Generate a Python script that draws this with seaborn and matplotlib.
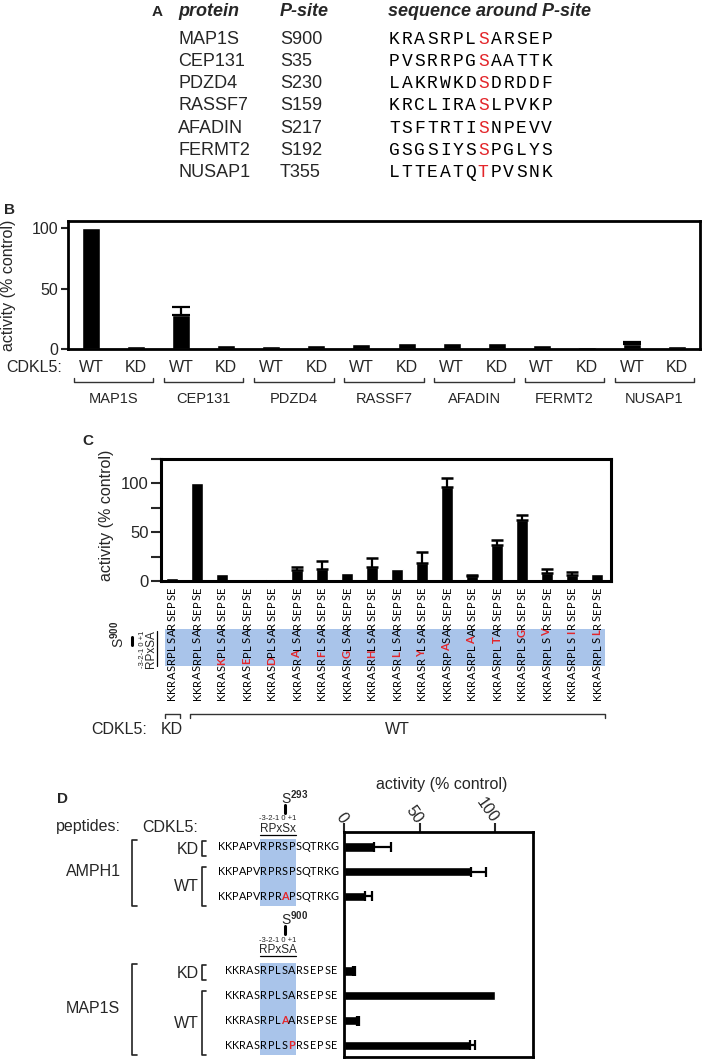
import numpy as np
import pandas as pd
import matplotlib
matplotlib.use('Agg')
import matplotlib.pyplot as plt
import seaborn as sns
from matplotlib.transforms import blended_transform_factory
from matplotlib.patches import Rectangle

sns.set_style('ticks')
plt.rcParams['font.family'] = ['Liberation Sans', 'DejaVu Sans']
plt.rcParams['mathtext.fontset'] = 'custom'
plt.rcParams['mathtext.rm'] = 'Liberation Sans'
plt.rcParams['mathtext.bf'] = 'Liberation Sans:bold'

RED = '#e3262b'
BAND = '#a9c4ea'

# ---------------- data ----------------
# panel A
a_proteins = ['MAP1S', 'CEP131', 'PDZD4', 'RASSF7', 'AFADIN', 'FERMT2', 'NUSAP1']
a_psites = ['S900', 'S35', 'S230', 'S159', 'S217', 'S192', 'T355']
a_seqs = ['KRASRPLSARSEP', 'PVSRRPGSAATTK', 'LAKRWKDSDRDDF', 'KRCLIRASLPVKP',
          'TSFTRTISNPEVV', 'GSGSIYSSPGLYS', 'LTTEATQTPVSNK']

# panel B
b_cdkl5 = ['WT', 'KD']
b_wt = [100, 28, 2.2, 3.8, 5.2, 3.3, 3.8]
b_wt_err = [0, 6.5, 0, 0, 0, 0, 2.2]
b_kd = [2.2, 3.3, 3.6, 4.7, 4.9, 1.9, 2.5]

# panel C
c_ref = 'KKRASRPLSARSEPSE'
c_seqs = ['KKRASRPLSARSEPSE', 'KKRASRPLSARSEPSE', 'KKRASKPLSARSEPSE', 'KKRASEPLSARSEPSE',
          'KKRASDPLSARSEPSE', 'KKRASRALSARSEPSE', 'KKRASRFLSARSEPSE', 'KKRASRGLSARSEPSE',
          'KKRASRHLSARSEPSE', 'KKRASRLLSARSEPSE', 'KKRASRYLSARSEPSE', 'KKRASRPASARSEPSE',
          'KKRASRPLAARSEPSE', 'KKRASRPLTARSEPSE', 'KKRASRPLSGRSEPSE', 'KKRASRPLSVRSEPSE',
          'KKRASRPLSIRSEPSE', 'KKRASRPLSLRSEPSE']
c_kinase = ['KD'] + ['WT'] * 17
c_vals = [3, 100, 7, 0.8, 2, 11.7, 12.8, 8.3, 14.8, 12, 18.2, 96, 5.5, 37, 62, 8.6, 6.2, 6.9]
c_err = [0, 0, 0, 0, 0, 2.8, 7.9, 0, 8.6, 0, 11.8, 10, 0.8, 5, 5.7, 4.1, 2.8, 0]

# panel D
d_proteins = ['AMPH1', 'MAP1S']
d_amph_ref = 'KKPAPVRPRSPSQTRKG'
d_amph_seqs = ['KKPAPVRPRSPSQTRKG', 'KKPAPVRPRSPSQTRKG', 'KKPAPVRPRAPSQTRKG']
d_amph_kinase = ['KD', 'WT', 'WT']
d_map_ref = 'KKRASRPLSARSEPSE'
d_map_seqs = ['KKRASRPLSARSEPSE', 'KKRASRPLSARSEPSE', 'KKRASRPLAARSEPSE', 'KKRASRPLSPRSEPSE']
d_map_kinase = ['KD', 'WT', 'WT', 'WT']
d_rows = [0, 1, 2, 5, 6, 7, 8]
d_vals = [20, 84, 14, 5.7, 100, 8.4, 83.5]
d_err = [11, 10, 4.8, 1.6, 0, 1.6, 3]

# ---------------- figure ----------------
W, H = 709, 1059
fig = plt.figure(figsize=(W / 100, H / 100), dpi=100)
ov = fig.add_axes([0, 0, 1, 1])
ov.set_xlim(0, W)
ov.set_ylim(H, 0)
ov.axis('off')


def px_axes(l, t, r, b):
    return fig.add_axes([l / W, 1 - b / H, (r - l) / W, (b - t) / H])


def style_box(ax, lw):
    for s in ax.spines.values():
        s.set_visible(True)
        s.set_linewidth(lw)
        s.set_color('black')


def bracket_down(tr, x0, x1, y, h=4):
    ov.plot([x0, x0, x1, x1], [y - h, y, y, y - h], color='#333333', lw=1, transform=tr, clip_on=False)


def bracket_left(tr, x, y0, y1, w=4):
    ov.plot([x + w, x, x, x + w], [y0, y0, y1, y1], color='#222222', lw=1.2, transform=tr, clip_on=False)


# ---------------- panel A ----------------
ov.text(152, 12, 'A', fontsize=11, fontweight='bold', va='center')
ov.text(178, 12, 'protein', fontsize=13, fontweight='bold', style='italic', va='center')
ov.text(280, 12, 'P-site', fontsize=13, fontweight='bold', style='italic', va='center')
ov.text(388, 12, 'sequence around P-site', fontsize=13, fontweight='bold', style='italic', va='center')
for i, (p, s, seq) in enumerate(zip(a_proteins, a_psites, a_seqs)):
    y = 39 + 22.3 * i
    ov.text(178, y, p, fontsize=13, va='center')
    ov.text(280, y, s, fontsize=13, va='center')
    for k, ch in enumerate(seq):
        ov.text(388 + 12.7 * (k + 0.5), y, ch, fontsize=13, family='Liberation Mono',
                ha='center', va='center', color=RED if k == 7 else 'black')

# ---------------- panel B ----------------
ax_b = px_axes(68, 221, 700, 349)
b_df = pd.DataFrame({
    'pos': np.arange(14),
    'protein': np.repeat(a_proteins, 2),
    'cdkl5': b_cdkl5 * 7,
    'activity': np.ravel(np.column_stack([b_wt, b_kd])),
    'err': np.ravel(np.column_stack([b_wt_err, np.zeros(7)])),
})
sns.barplot(data=b_df, x='pos', y='activity', native_scale=True, color='black',
            saturation=1, width=0.4, ax=ax_b, errorbar=None)
eb = b_df[b_df['err'] > 0]
ax_b.errorbar(eb['pos'], eb['activity'], yerr=[np.zeros(len(eb)), eb['err']], fmt='none',
              ecolor='black', elinewidth=1.6, capsize=6.5, capthick=1.6)
ax_b.set_xlim(-0.51, 13.51)
ax_b.set_ylim(0, 106)
ax_b.set_xticks([])
ax_b.set_yticks([0, 50, 100])
ax_b.tick_params(axis='y', direction='out', length=5, width=1.5, labelsize=11.5, pad=2)
ax_b.set_xlabel('')
ax_b.set_ylabel('')
style_box(ax_b, 2)
ov.text(4, 210, 'B', fontsize=11, fontweight='bold', va='center')
ov.text(9, 285, 'activity (% control)', rotation=90, fontsize=11.5, ha='center', va='center')
tr_b = blended_transform_factory(ax_b.transData, ov.transData)
ov.text(6, 368, 'CDKL5:', fontsize=11.5, va='center')
for _, r in b_df.iterrows():
    ov.text(r['pos'], 368, r['cdkl5'], fontsize=11.5, ha='center', va='center', transform=tr_b)
for g, name in enumerate(a_proteins):
    c = 2 * g + 0.5
    bracket_down(tr_b, c - 0.88, c + 0.88, 382)
    ov.text(c, 399, name, fontsize=10.5, ha='center', va='center', transform=tr_b)

# ---------------- panel C ----------------
ax_c = px_axes(161, 459, 611, 581)
c_df = pd.DataFrame({'pos': np.arange(18), 'activity': c_vals, 'err': c_err, 'cdkl5': c_kinase})
sns.barplot(data=c_df, x='pos', y='activity', native_scale=True, color='black',
            saturation=1, width=0.47, ax=ax_c, errorbar=None)
ec = c_df[c_df['err'] > 0]
ax_c.errorbar(ec['pos'], ec['activity'], yerr=[np.zeros(len(ec)), ec['err']], fmt='none',
              ecolor='black', elinewidth=1.6, capsize=4.3, capthick=1.8)
ax_c.set_xlim(-0.44, 17.56)
ax_c.set_ylim(0, 125)
ax_c.set_xticks([])
ax_c.set_yticks([0, 25, 50, 75, 100, 125])
ax_c.set_yticklabels(['0', '', '50', '', '100', ''])
ax_c.tick_params(axis='y', direction='out', length=7, width=1.5, labelsize=12, pad=2)
ax_c.set_xlabel('')
ax_c.set_ylabel('')
style_box(ax_c, 2.2)
ov.text(82, 441, 'C', fontsize=11, fontweight='bold', va='center')
ov.text(107, 515, 'activity (% control)', rotation=90, fontsize=11.5, ha='center', va='center')

tr_c = blended_transform_factory(ax_c.transData, ov.transData)
ov.add_patch(Rectangle((-0.3, 629), 17.6, 37, transform=tr_c, color=BAND, zorder=0, lw=0))
step_c = 7.1
for j, seq in enumerate(c_seqs):
    for k, ch in enumerate(seq):
        mut = ch != c_ref[k]
        ov.text(j, 700 - step_c * (k + 0.5), ch, rotation=90, ha='center', va='center',
                fontsize=8, family='Lato', transform=tr_c,
                color=RED if mut else 'black', fontweight='bold' if mut else 'normal')
ov.text(118, 634, r'$\mathregular{S^{\mathbf{900}}}$', rotation=90, fontsize=10, ha='center', va='center')
ov.plot([132, 132], [637, 645], color='black', lw=2.2)
ov.text(142, 649, '-3-2-1 0 +1', rotation=90, fontsize=5.5, ha='center', va='center')
ov.text(151, 649, 'RPxSA', rotation=90, fontsize=8.5, ha='center', va='center')
ov.plot([157, 157], [631, 666], color='black', lw=0.9)

bracket_down(tr_c, -0.3, 0.3, 714, h=-4)
bracket_down(tr_c, 0.7, 17.3, 714, h=-4)
ov.text(147, 729, 'CDKL5:', fontsize=11.5, ha='right', va='center')
ov.text(0, 729, 'KD', fontsize=11.5, ha='center', va='center', transform=tr_c)
ov.text(9, 729, 'WT', fontsize=11.5, ha='center', va='center', transform=tr_c)

# ---------------- panel D ----------------
ax_d = px_axes(344, 832, 533, 1057)
d_df = pd.DataFrame({'row': d_rows, 'activity': d_vals, 'err': d_err})
sns.barplot(data=d_df, x='activity', y='row', orient='h', native_scale=True, color='black',
            saturation=1, width=0.38, ax=ax_d, errorbar=None)
ed = d_df[d_df['err'] > 0]
ax_d.errorbar(ed['activity'], ed['row'], xerr=[np.zeros(len(ed)), ed['err']], fmt='none',
              ecolor='black', elinewidth=1.6, capsize=3.3, capthick=1.6)
ax_d.set_xlim(0, 125)
ax_d.set_ylim(8.47, -0.6)
ax_d.set_yticks([])
ax_d.xaxis.tick_top()
ax_d.set_xticks([0, 50, 100])
ax_d.set_xticklabels(['0', '50', '100'], rotation=-55, ha='right', va='center',
                     rotation_mode='anchor')
ax_d.tick_params(axis='x', direction='out', length=6.5, width=1.5, labelsize=11.5, pad=1)
ax_d.set_xlabel('')
ax_d.set_ylabel('')
style_box(ax_d, 2)
ov.text(442, 785, 'activity (% control)', fontsize=11.5, ha='center', va='center')
ov.text(57, 799, 'D', fontsize=11, fontweight='bold', va='center')
ov.text(56, 827, 'peptides:', fontsize=11.5, va='center')
ov.text(142, 827, 'CDKL5:', fontsize=11.5, va='center')

tr_d = blended_transform_factory(ov.transData, ax_d.transData)
step_d = 7.05
groups = [
    (d_amph_ref, d_amph_seqs, d_amph_kinase, d_rows[:3], 218, 6, 's293', 'RPxSx', 798),
    (d_map_ref, d_map_seqs, d_map_kinase, d_rows[3:], 225, 5, 's900', 'RPxSA', 919),
]
for (ref, seqs, kin, rows, x0, band_start, site, motif, y_top), prot in zip(groups, d_proteins):
    bx = x0 + step_d * band_start
    ov.add_patch(Rectangle((bx, rows[0] - 0.3), step_d * 5, rows[-1] - rows[0] + 0.7,
                           transform=tr_d, color=BAND, zorder=0, lw=0))
    for seq, r in zip(seqs, rows):
        for k, ch in enumerate(seq):
            mut = ch != ref[k]
            ov.text(x0 + step_d * (k + 0.5), r, ch, ha='center', va='center', fontsize=7.8,
                    family='Lato', transform=tr_d, color=RED if mut else 'black',
                    fontweight='bold' if mut else 'normal')
    sx = bx + step_d * 3.5
    ov.text(sx - 4, y_top, r'$\mathregular{S^{\mathbf{' + site[1:] + '}}}$', fontsize=10, ha='left', va='center')
    ov.plot([sx, sx], [y_top + 7, y_top + 15], color='black', lw=2.2)
    ov.text(bx + step_d * 2.5, y_top + 21, '-3-2-1 0 +1', fontsize=5.5, ha='center', va='center')
    ov.text(bx + step_d * 2.5, y_top + 31, motif, fontsize=8.5, ha='center', va='center')
    ov.plot([bx, bx + step_d * 5], [y_top + 37, y_top + 37], color='black', lw=0.9)
    # brackets
    bracket_left(tr_d, 132, rows[0] - 0.28, rows[-1] + 0.38, w=5)
    ov.text(93, (rows[0] + rows[-1]) / 2, prot, fontsize=11.5, ha='center', va='center', transform=tr_d)
    kd_rows = [r for r, k in zip(rows, kin) if k == 'KD']
    wt_rows = [r for r, k in zip(rows, kin) if k == 'WT']
    bracket_left(tr_d, 202, kd_rows[0] - 0.25, kd_rows[-1] + 0.35, w=4)
    ov.text(199, np.mean(kd_rows) + 0.1, 'KD', fontsize=11.5, ha='right', va='center', transform=tr_d)
    bracket_left(tr_d, 202, wt_rows[0] - 0.2, wt_rows[-1] + 0.38, w=4)
    ov.text(199, np.mean(wt_rows) + 0.1, 'WT', fontsize=11.5, ha='right', va='center', transform=tr_d)

fig.savefig('out.png', dpi=100)
